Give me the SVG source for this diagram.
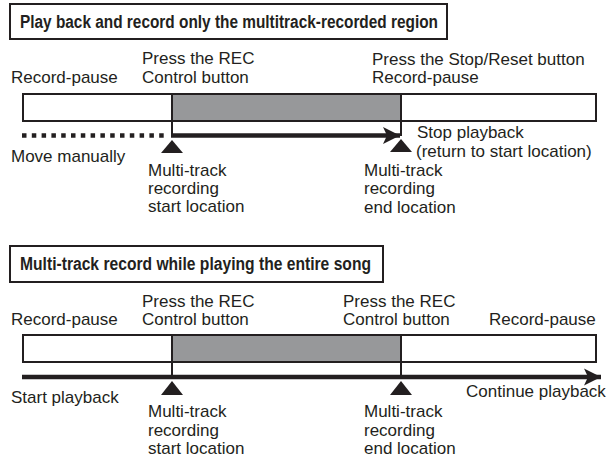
<svg xmlns="http://www.w3.org/2000/svg" width="614" height="459" viewBox="0 0 614 459">
  <style>
    .t { font-family: "Liberation Sans", Arial, sans-serif; font-size: 17px; fill: #231f20; }
    .ttl { font-family: "Liberation Sans", Arial, sans-serif; font-size: 18px; font-weight: bold; fill: #231f20; }
    .box { fill: #ffffff; stroke: #231f20; stroke-width: 2; }
    .bar { fill: #ffffff; stroke: #231f20; stroke-width: 2; }
    .rec { fill: #97989a; stroke: #231f20; stroke-width: 2; }
    .tick { stroke: #231f20; stroke-width: 2; fill: none; }
    .play { stroke: #231f20; stroke-width: 4.5; fill: none; }
    .dots { stroke: #231f20; stroke-width: 4.5; fill: none; stroke-dasharray: 4.5 5.3; }
    .tri { fill: #231f20; }
  </style>
  <defs>
    <marker id="ah" markerUnits="userSpaceOnUse" markerWidth="20" markerHeight="20" viewBox="-18 -10 20 20" refX="0" refY="0" orient="auto">
      <path d="M0,0 L-17,-8.5 L-13,0 L-17,8.5 Z" fill="#231f20"/>
    </marker>
  </defs>

  <!-- Section 1 -->
  <g id="title1">
    <rect class="box" x="10" y="4" width="437" height="35"/>
    <text class="ttl" x="20" y="28" textLength="418" lengthAdjust="spacingAndGlyphs">Play back and record only the multitrack-recorded region</text>
  </g>
  <g id="bar1">
    <rect class="bar" x="23" y="94" width="573" height="27"/>
    <rect class="rec" x="172" y="94" width="229" height="27"/>
  </g>
  <g id="labels1">
    <text class="t" x="11" y="83">Record-pause</text>
    <text class="t" x="142" y="64">Press the REC</text>
    <text class="t" x="142" y="83">Control button</text>
    <text class="t" x="372" y="65">Press the Stop/Reset button</text>
    <text class="t" x="372" y="83">Record-pause</text>
    <text class="t" x="11" y="162">Move manually</text>
    <text class="t" x="417" y="138">Stop playback</text>
    <text class="t" x="416" y="157">(return to start location)</text>
  </g>
  <g id="start1">
    <polygon class="tri" points="172,140 161,153 183,153"/>
    <text class="t" x="148" y="176">Multi-track</text>
    <text class="t" x="148" y="194">recording</text>
    <text class="t" x="148" y="212">start location</text>
  </g>
  <g id="end1">
    <polygon class="tri" points="401,139 390,152 412,152"/>
    <text class="t" x="364" y="176">Multi-track</text>
    <text class="t" x="364" y="194">recording</text>
    <text class="t" x="364" y="213">end location</text>
  </g>

  <!-- Section 2 -->
  <g id="title2">
    <rect class="box" x="10" y="246" width="373" height="36"/>
    <text class="ttl" x="20" y="270" textLength="351" lengthAdjust="spacingAndGlyphs">Multi-track record while playing the entire song</text>
  </g>
  <g id="bar2">
    <rect class="bar" x="23" y="335" width="573" height="27"/>
    <rect class="rec" x="172" y="335" width="229" height="27"/>
  </g>
  <g id="labels2">
    <text class="t" x="11" y="325">Record-pause</text>
    <text class="t" x="142" y="307">Press the REC</text>
    <text class="t" x="142" y="325">Control button</text>
    <text class="t" x="343" y="307">Press the REC</text>
    <text class="t" x="343" y="325">Control button</text>
    <text class="t" x="489" y="325">Record-pause</text>
    <text class="t" x="11" y="403">Start playback</text>
    <text class="t" x="466" y="397">Continue playback</text>
  </g>
  <g id="start2">
    <polygon class="tri" points="172,381 161,395 183,395"/>
    <text class="t" x="148" y="417">Multi-track</text>
    <text class="t" x="148" y="436">recording</text>
    <text class="t" x="148" y="454">start location</text>
  </g>
  <g id="end2">
    <polygon class="tri" points="401,381 390,395 412,395"/>
    <text class="t" x="364" y="417">Multi-track</text>
    <text class="t" x="364" y="436">recording</text>
    <text class="t" x="364" y="454">end location</text>
  </g>

  <g id="connectors">
    <line class="tick" x1="172" y1="121" x2="172" y2="137"/>
    <line class="tick" x1="401" y1="121" x2="401" y2="136"/>
    <line class="dots" x1="22" y1="135.5" x2="168" y2="135.5"/>
    <line class="play" x1="171" y1="135.5" x2="400" y2="135.5" marker-end="url(#ah)"/>
    <line class="tick" x1="172" y1="362" x2="172" y2="378"/>
    <line class="tick" x1="401" y1="362" x2="401" y2="378"/>
    <line class="play" x1="22" y1="377" x2="601" y2="377" marker-end="url(#ah)"/>
  </g>
</svg>
